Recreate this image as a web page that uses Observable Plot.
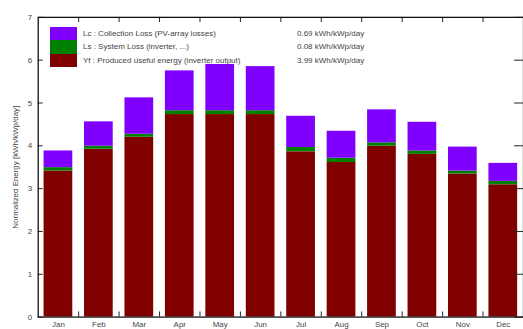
<!DOCTYPE html>
<html>
<head>
<meta charset="utf-8">
<script src="https://cdn.jsdelivr.net/npm/d3@7"></script>
<script src="https://cdn.jsdelivr.net/npm/@observablehq/plot@0.6"></script>
<style>
  html, body { margin: 0; padding: 0; background: #fff; overflow: hidden; width: 523px; height: 329px; }
  #wrap { position: relative; width: 523px; height: 329px; overflow: hidden; }
  #legend { position: absolute; left: 50px; top: 27px; font: 8px "Liberation Sans", Arial, sans-serif; color: #444; }
  #legend .row { position: absolute; left: 0; height: 13.4px; white-space: nowrap; }
  #legend .sw { position: absolute; left: 0; width: 27px; height: 13.4px; }
  #legend .lab { position: absolute; left: 33px; line-height: 13.4px; }
  #legend .val { position: absolute; left: 247px; line-height: 13.4px; }
</style>
</head>
<body>
<div id="wrap"><div id="chart"></div><div id="legend"></div></div>
<script>
const months = ["Jan","Feb","Mar","Apr","May","Jun","Jul","Aug","Sep","Oct","Nov","Dec"];
const yf = [3.41, 3.92, 4.20, 4.73, 4.73, 4.73, 3.86, 3.61, 3.99, 3.80, 3.34, 3.09];
const ls = [0.08, 0.07, 0.07, 0.09, 0.09, 0.09, 0.10, 0.10, 0.08, 0.08, 0.07, 0.08];
const lc = [0.39, 0.57, 0.85, 0.93, 1.08, 1.03, 0.73, 0.63, 0.77, 0.67, 0.56, 0.42];
const seriesKeys = ["Yf", "Ls", "Lc"];
const seriesColors = ["#800000", "#008000", "#8000ff"];
const legendKeys = ["Lc", "Ls", "Yf"];
const legendLabels = [
  "Lc : Collection Loss (PV-array losses)",
  "Ls : System Loss  (inverter, ...)",
  "Yf : Produced useful energy  (inverter output)"
];
const legendValues = ["0.69 kWh/kWp/day", "0.08 kWh/kWp/day", "3.99 kWh/kWp/day"];
const yTicks = [0, 1, 2, 3, 4, 5, 6, 7];
const yLabel = "Normalized Energy [kWh/kWp/day]";

const data = [];
months.forEach((m, i) => {
  data.push({month: m, series: "Yf", value: yf[i]});
  data.push({month: m, series: "Ls", value: ls[i]});
  data.push({month: m, series: "Lc", value: lc[i]});
});

const W = 527, H = 329, ML = 38, MT = 17, MB = 10, MR = 0;
const step = (W - ML - MR) / months.length;
const font = "'Liberation Sans', Arial, sans-serif";

const chart = Plot.plot({
  width: W, height: H,
  marginLeft: ML, marginRight: MR, marginTop: MT, marginBottom: MB,
  style: {fontFamily: font, fontSize: "8px", color: "#444", background: "transparent", overflow: "visible"},
  x: {domain: months, paddingInner: 0.29, paddingOuter: 0.145, round: false, label: null},
  y: {domain: [0, 7], ticks: yTicks, label: yLabel},
  color: {domain: seriesKeys, range: seriesColors},
  marks: [
    Plot.barY(data, {x: "month", y: "value", fill: "series", order: seriesKeys}),
    Plot.axisY(yTicks, {anchor: "left", tickSize: 0, tickPadding: 6, fontSize: 8, fill: "#444",
      label: yLabel, labelAnchor: "center", labelArrow: "none", labelOffset: 26}),
    Plot.tickY(yTicks, {y: d => d, stroke: "#222", insetRight: W - ML - MR - 5}),
    Plot.tickY(yTicks, {y: d => d, stroke: "#222", insetLeft: W - ML - MR - 9}),
    Plot.axisX({anchor: "bottom", tickSize: 0, tickPadding: 4, fontSize: 8, fill: "#444", label: null}),
    Plot.ruleX(months.slice(1), {x: d => d, y1: 0, y2: 0.12, dx: -step / 2, stroke: "#222"}),
    Plot.ruleX(months.slice(1), {x: d => d, y1: 6.88, y2: 7, dx: -step / 2, stroke: "#222"}),
    Plot.frame({stroke: "#111", strokeWidth: 1.3})
  ]
});
document.getElementById("chart").appendChild(chart);

const legend = d3.select("#legend");
legendKeys.forEach((k, i) => {
  const row = legend.append("div").attr("class", "row").style("top", (i * 13.4) + "px");
  row.append("div").attr("class", "sw").style("background", seriesColors[seriesKeys.indexOf(k)]);
  row.append("div").attr("class", "lab").text(legendLabels[i]);
  row.append("div").attr("class", "val").text(legendValues[i]);
});
</script>
</body>
</html>
